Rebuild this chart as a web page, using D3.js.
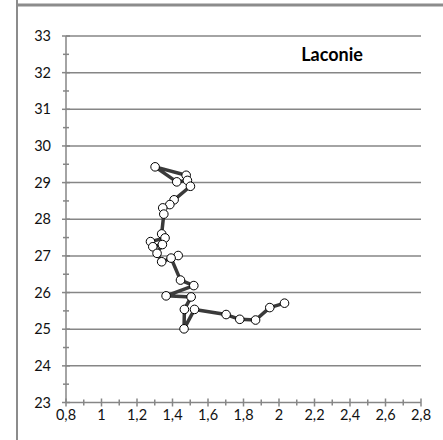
<!DOCTYPE html>
<html><head><meta charset="utf-8">
<script src="https://cdn.jsdelivr.net/npm/d3@7"></script>
<style>body{margin:0;background:#fff}svg{display:block}</style>
</head><body>
<script>
const title = "Laconie";
const xValues = [1.477,1.302,1.424,1.484,1.501,1.409,1.385,1.345,1.351,1.339,1.358,1.276,1.289,1.343,1.313,1.339,1.432,1.392,1.445,1.520,1.364,1.505,1.467,1.465,1.524,1.702,1.779,1.868,1.948,2.031];
const yValues = [29.20,29.43,29.02,29.06,28.90,28.53,28.40,28.31,28.14,27.60,27.49,27.39,27.25,27.31,27.07,26.84,27.01,26.94,26.34,26.19,25.91,25.88,25.54,25.01,25.54,25.40,25.27,25.25,25.59,25.71];
const xTicks = [0.8,1,1.2,1.4,1.6,1.8,2,2.2,2.4,2.6,2.8];
const xTickLabels = ["0,8","1","1,2","1,4","1,6","1,8","2","2,2","2,4","2,6","2,8"];
const yTicks = [23,24,25,26,27,28,29,30,31,32,33];
const yTickLabels = ["23","24","25","26","27","28","29","30","31","32","33"];

const W = 443, H = 440;
const svg = d3.select("body").append("svg").attr("width", W).attr("height", H);
const x = d3.scaleLinear().domain([0.8, 2.8]).range([66, 421]);
const y = d3.scaleLinear().domain([23, 33]).range([402.5, 36]);
const grey = "#868686";
const font = "Lato, 'Open Sans', sans-serif";

// frame
svg.append("line").attr("x1", 17).attr("x2", 17).attr("y1", 0).attr("y2", H).attr("stroke", "#8c8c8c").attr("stroke-width", 2);
svg.append("line").attr("x1", 16).attr("x2", W).attr("y1", 5).attr("y2", 5).attr("stroke", "#8c8c8c").attr("stroke-width", 3);

// gridlines
svg.append("g").selectAll("line").data(yTicks.slice(1)).join("line")
  .attr("x1", x(0.8)).attr("x2", x(2.8)).attr("y1", d => y(d)).attr("y2", d => y(d))
  .attr("stroke", grey).attr("stroke-width", 1.5);

// axes
svg.append("line").attr("x1", x(0.8)).attr("x2", x(0.8)).attr("y1", y(23)).attr("y2", y(33)).attr("stroke", grey).attr("stroke-width", 1.5);
svg.append("line").attr("x1", x(0.8)).attr("x2", x(2.8)).attr("y1", y(23)).attr("y2", y(23)).attr("stroke", grey).attr("stroke-width", 1.5);

// y ticks (major + minor, cross)
const yMinor = d3.range(23.5, 33, 1);
svg.append("g").selectAll("line").data(yTicks).join("line")
  .attr("x1", x(0.8) - 4).attr("x2", x(0.8) + 4).attr("y1", d => y(d)).attr("y2", d => y(d))
  .attr("stroke", grey).attr("stroke-width", 1.5);
svg.append("g").selectAll("line").data(yMinor).join("line")
  .attr("x1", x(0.8) - 3).attr("x2", x(0.8) + 3).attr("y1", d => y(d)).attr("y2", d => y(d))
  .attr("stroke", grey).attr("stroke-width", 1.5);
// x ticks
const xMinor = d3.range(0.9, 2.8, 0.2);
svg.append("g").selectAll("line").data(xTicks).join("line")
  .attr("x1", d => x(d)).attr("x2", d => x(d)).attr("y1", y(23) - 4).attr("y2", y(23) + 4)
  .attr("stroke", grey).attr("stroke-width", 1.5);
svg.append("g").selectAll("line").data(xMinor).join("line")
  .attr("x1", d => x(d)).attr("x2", d => x(d)).attr("y1", y(23) - 3).attr("y2", y(23) + 3)
  .attr("stroke", grey).attr("stroke-width", 1.5);

// tick labels
svg.append("g").selectAll("text").data(yTicks).join("text")
  .attr("x", 51).attr("y", d => y(d)).attr("dy", "0.35em").attr("text-anchor", "end")
  .attr("font-family", font).attr("font-size", 14.5).attr("fill", "#111")
  .text((d, i) => yTickLabels[i]);
svg.append("g").selectAll("text").data(xTicks).join("text")
  .attr("x", d => x(d)).attr("y", 420).attr("text-anchor", "middle")
  .attr("font-family", font).attr("font-size", 14.5).attr("fill", "#111")
  .text((d, i) => xTickLabels[i]);

// title
svg.append("text").attr("x", 332).attr("y", 61).attr("text-anchor", "middle")
  .attr("font-family", font).attr("font-weight", "bold").attr("font-size", 18).attr("fill", "#000")
  .text(title);

// series
const pts = xValues.map((v, i) => [v, yValues[i]]);
svg.append("path").datum(pts)
  .attr("d", d3.line().x(d => x(d[0])).y(d => y(d[1])))
  .attr("fill", "none").attr("stroke", "#3a3a3a").attr("stroke-width", 3.5).attr("stroke-linejoin", "round");
svg.append("g").selectAll("circle").data(pts).join("circle")
  .attr("cx", d => x(d[0])).attr("cy", d => y(d[1])).attr("r", 4.3)
  .attr("fill", "#fff").attr("stroke", "#000").attr("stroke-width", 1);
</script>
</body></html>
